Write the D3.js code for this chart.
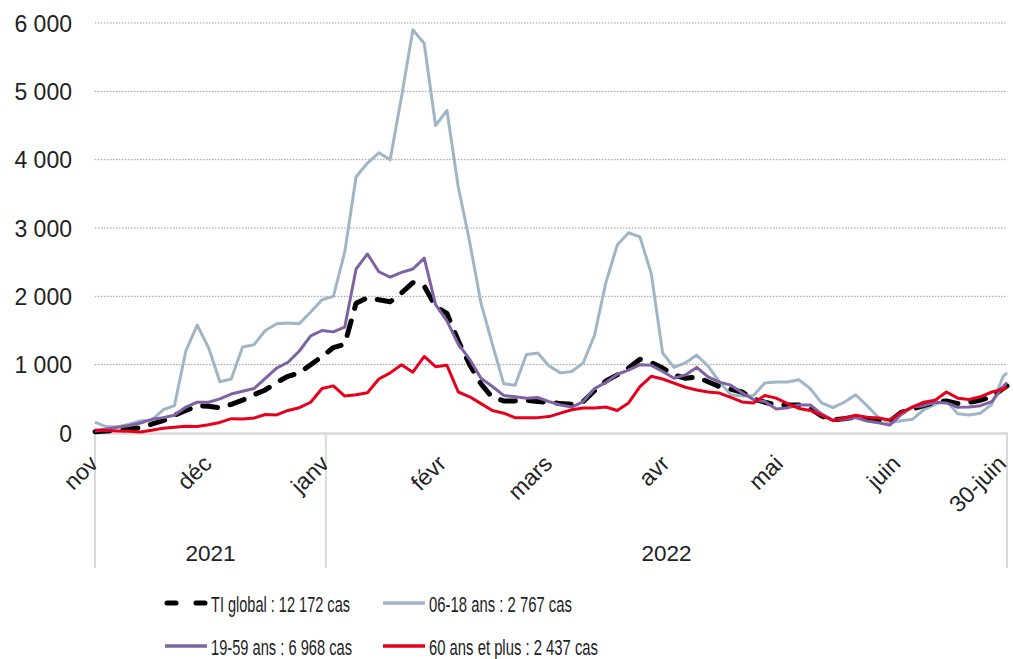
<!DOCTYPE html>
<html>
<head>
<meta charset="utf-8">
<script src="https://cdn.jsdelivr.net/npm/d3@7"></script>
<style>
  body { margin: 0; background: #fff; }
  svg { font-family: "Liberation Sans", Arial, sans-serif; }
</style>
</head>
<body>
<div id="chart"></div>
<script>
// Data (un point tous les 3 jours + 30 juin)
const dates = d3.timeDay.range(new Date(2021, 10, 1), new Date(2022, 5, 30), 3).concat([new Date(2022, 5, 30)]);

const tiGlobal = [20, 30, 40, 55, 80, 130, 180, 260, 330, 400, 390, 370, 420, 480, 560, 630, 740, 830, 880, 1000,
  1120, 1250, 1300, 1900, 1980, 1950, 1920, 2050, 2200, 2150, 1850, 1750, 1350, 1000, 720, 520, 470, 470, 480, 460,
  450, 430, 420, 460, 620, 760, 850, 950, 1080, 1030, 950, 850, 800, 820, 750, 680, 640, 600, 500, 450,
  410, 410, 410, 360, 250, 190, 210, 230, 200, 175, 170, 300, 350, 400, 450, 470, 430, 450, 480, 530,
  650, 690];

const ans0618 = [160, 90, 90, 130, 175, 190, 340, 400, 1200, 1580, 1250, 750, 790, 1260, 1290, 1500, 1600, 1610, 1600, 1770,
  1950, 2000, 2650, 3750, 3950, 4100, 4000, 4920, 5900, 5700, 4500, 4720, 3600, 2800, 1900, 1300, 720, 700, 1150, 1170,
  980, 880, 900, 1025, 1430, 2200, 2750, 2930, 2870, 2330, 1170, 960, 1025, 1140, 980, 750, 560, 540, 550, 730,
  745, 745, 780, 650, 440, 370, 450, 560, 400, 230, 150, 180, 200, 340, 420, 470, 280, 265, 290, 420,
  830, 880];

const ans1959 = [30, 60, 85, 110, 145, 200, 225, 260, 380, 450, 450, 500, 570, 610, 650, 800, 950, 1035, 1200, 1420,
  1500, 1480, 1550, 2400, 2620, 2360, 2280, 2350, 2400, 2560, 1880, 1640, 1300, 1080, 800, 680, 550, 530, 510, 520,
  460, 410, 380, 460, 650, 740, 860, 920, 1000, 990, 900, 800, 850, 960, 820, 745, 700, 590, 490, 460,
  350, 370, 410, 410, 280, 190, 200, 225, 175, 150, 115, 270, 380, 400, 450, 440, 375, 380, 400, 460,
  680, 740];

const ans60plus = [45, 35, 30, 25, 15, 40, 70, 85, 100, 95, 120, 155, 210, 205, 220, 270, 265, 330, 370, 450,
  650, 690, 540, 560, 590, 790, 880, 1000, 890, 1120, 970, 990, 600, 530, 430, 330, 290, 225, 225, 225,
  240, 290, 340, 365, 365, 380, 330, 440, 680, 830, 790, 730, 670, 630, 600, 585, 520, 455, 440, 550,
  510, 430, 360, 330, 260, 180, 220, 260, 230, 220, 190, 300, 380, 450, 480, 600, 510, 490, 530, 600,
  640, 675];

const tickDates = [new Date(2021, 10, 1), new Date(2021, 11, 1), new Date(2022, 0, 1), new Date(2022, 1, 1),
  new Date(2022, 2, 1), new Date(2022, 3, 1), new Date(2022, 4, 1), new Date(2022, 5, 1), new Date(2022, 5, 30)];
const tickLabels = ["nov", "déc", "janv", "févr", "mars", "avr", "mai", "juin", "30-juin"];
const yTicks = [0, 1000, 2000, 3000, 4000, 5000, 6000];
const years = ["2021", "2022"];
const yearBounds = [new Date(2021, 10, 1), new Date(2022, 0, 1), new Date(2022, 5, 30)];

const series = [
  { name: "06-18 ans : 2 767 cas", values: ans0618, color: "#a0b5c6", width: 3 },
  { name: "TI global : 12 172 cas", values: tiGlobal, color: "#000", width: 5, dash: "15,13" },
  { name: "19-59 ans : 6 968 cas", values: ans1959, color: "#7f62a4", width: 3 },
  { name: "60 ans et plus : 2 437 cas", values: ans60plus, color: "#e6001c", width: 3 }
];

const width = 1013, height = 659;
const svg = d3.select('#chart').append('svg')
  .attr('width', width)
  .attr('height', height);

const x = d3.scaleTime()
  .domain([new Date(2021, 10, 1), new Date(2022, 5, 30)])
  .range([95, 1007]);
const y = d3.scaleLinear()
  .domain([0, 6000])
  .range([433, 23]);

const fr = d3.formatLocale({ decimal: ",", thousands: " ", grouping: [3], currency: ["", " €"] });
const numberformat = fr.format(",d");

// grille
svg.append('g')
  .selectAll('line')
  .data(yTicks.slice(1))
  .enter().append('line')
  .attr('x1', 95).attr('x2', 1007)
  .attr('y1', d => y(d)).attr('y2', d => y(d))
  .attr('stroke', '#9a9a9a')
  .attr('stroke-width', 1)
  .attr('stroke-dasharray', '1.5,1.5');

// axe Y
const yAxis = svg.append('g')
  .attr('transform', 'translate(72,0)')
  .call(d3.axisLeft(y).tickValues(yTicks).tickFormat(numberformat).tickSize(0).tickPadding(0));
yAxis.select('.domain').remove();
yAxis.selectAll('text')
  .attr('dy', '0.36em')
  .style('font-size', '23px')
  .style('fill', '#222');

// séparateurs années
svg.append('g')
  .selectAll('line')
  .data(yearBounds)
  .enter().append('line')
  .attr('x1', d => x(d)).attr('x2', d => x(d))
  .attr('y1', 433).attr('y2', 568)
  .attr('stroke', '#d9d9d9')
  .attr('stroke-width', 2);

// axe X
const xAxis = svg.append('g')
  .attr('transform', 'translate(0,433)')
  .call(d3.axisBottom(x).tickValues(tickDates).tickFormat((d, i) => tickLabels[i]).tickSize(0));
xAxis.select('.domain')
  .attr('stroke', '#d9d9d9')
  .attr('stroke-width', 2.5);
xAxis.selectAll('text')
  .attr('text-anchor', 'end')
  .attr('dy', 0)
  .attr('y', 0)
  .attr('transform', (d, i) => `translate(${i === tickLabels.length - 1 ? 0 : 4},32) rotate(-45)`)
  .style('font-size', '23px')
  .style('fill', '#222');

// années
svg.append('g')
  .selectAll('text')
  .data(years)
  .enter().append('text')
  .attr('x', (d, i) => (x(yearBounds[i]) + x(yearBounds[i + 1])) / 2)
  .attr('y', 561)
  .attr('text-anchor', 'middle')
  .style('font-size', '22.5px')
  .style('fill', '#222')
  .text(d => d);

// courbes
const line = d3.line()
  .x((d, i) => x(dates[i]))
  .y(d => y(d));

svg.append('g')
  .selectAll('path')
  .data(series)
  .enter().append('path')
  .attr('d', d => line(d.values))
  .attr('fill', 'none')
  .attr('stroke', d => d.color)
  .attr('stroke-width', d => d.width)
  .attr('stroke-linejoin', 'round')
  .attr('stroke-linecap', d => d.dash ? 'round' : 'butt')
  .attr('stroke-dasharray', d => d.dash || null);

// légende
const legendItems = [
  { s: series[1], x: 165, y: 603, tl: 139 },
  { s: series[0], x: 383, y: 603, tl: 143 },
  { s: series[2], x: 165, y: 646, tl: 141 },
  { s: series[3], x: 383, y: 646, tl: 169 }
];
const legend = svg.append('g')
  .selectAll('g')
  .data(legendItems)
  .enter().append('g');

legend.append('line')
  .attr('x1', d => d.x + (d.s.dash ? 2 : 0)).attr('x2', d => d.x + (d.s.dash ? 40 : 42))
  .attr('y1', d => d.y).attr('y2', d => d.y)
  .attr('stroke', d => d.s.color)
  .attr('stroke-width', d => d.s.dash ? 5 : 3.5)
  .attr('stroke-linecap', d => d.s.dash ? 'round' : 'butt')
  .attr('stroke-dasharray', d => d.s.dash ? '9,20' : null);

legend.append('text')
  .attr('x', d => d.x + 46)
  .attr('y', d => d.y + 9)
  .attr('textLength', d => d.tl)
  .attr('lengthAdjust', 'spacingAndGlyphs')
  .style('font-size', '22px')
  .style('fill', '#222')
  .text(d => d.s.name);
</script>
</body>
</html>
